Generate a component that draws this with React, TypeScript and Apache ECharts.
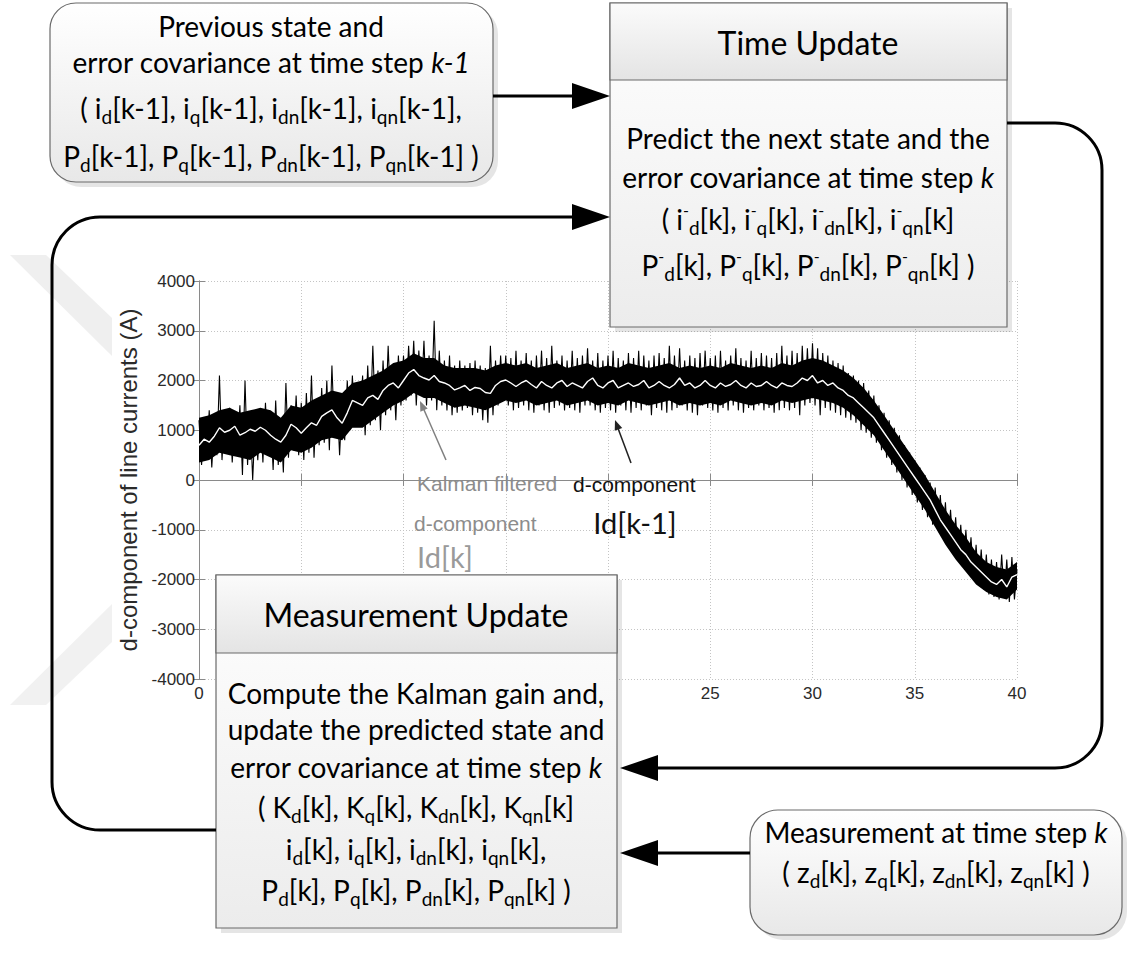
import React, { useEffect, useRef } from "react";
import * as echarts from "echarts";

// ---------- data ----------
const X_TICKS = [0, 5, 10, 15, 20, 25, 30, 35, 40];
const X_TICKS_HIDDEN = [5, 10, 15, 20]; // covered by the Measurement Update box in the picture
const Y_TICKS = [-4000, -3000, -2000, -1000, 0, 1000, 2000, 3000, 4000];
const FILT_STEP = 0.25; // s between filtered samples
const MEAS_STEP = 0.125; // s between measured samples
const CORE_STEP = 0.5; // s between samples of the dense core of the measured trace

// Kalman filtered d-component Id[k] (white trace), every 0.25 s from 0 to 40
const filtered = [
  700, 820, 760, 880, 1050, 960, 1000, 1080, 900, 950, 1020, 980, 1060, 1000, 900, 820,
  760, 900, 1120, 1050, 940, 1050, 1150, 1100, 1280, 1350, 1410, 1250, 1140, 1350, 1600, 1550,
  1500, 1650, 1700, 1620, 1800, 1900, 1950, 1850, 2000, 2150, 2220, 2100, 2050, 2010, 2100, 1980,
  1950, 1900, 1810, 1850, 1900, 1800, 1860, 1840, 1760, 1740, 1900, 1980, 2010, 1950, 1880, 1950,
  2000, 1920, 1850, 1980, 1900, 1850, 1950, 2000, 1880, 1950, 1900, 1850, 1980, 2050, 1900, 1850,
  1950, 2000, 1850, 1900, 1950, 1880, 1920, 2000, 1850, 1900, 1980, 1900, 1850, 1920, 2050, 1900,
  1950, 1850, 1900, 2000, 1900, 1850, 1950, 1880, 1920, 2000, 1900, 1850, 1950, 1880, 1900, 1980,
  1900, 1850, 1950, 1900, 1880, 1950, 2050, 2000, 2100, 1950, 2000, 1900, 1950, 1850, 1800, 1700,
  1650, 1550, 1450, 1350, 1250, 1100, 950, 800, 650, 500, 350, 200, 50, -100, -250, -400,
  -600, -800, -950, -1100, -1250, -1400, -1500, -1650, -1750, -1850, -1950, -2050, -2100, -2000, -2150, -1950,
  -1900,
];

// measured d-component Id[k-1] (black noisy trace, spikes), every 0.125 s from 0 to 40
const measured = [
  1200, 300, 1000, 450, 1400, 250, 1150, 500,
  2100, 400, 1300, 550, 1450, 350, 1250, 600,
  1500, 100, 2000, 300, 1350, 0, 1200, 400,
  1400, 350, 1550, 500, 1300, 200, 1600, 300,
  1200, 150, 1950, 450, 1500, 600, 1700, 500,
  1550, 400, 1750, 550, 2100, 450, 1600, 700,
  1850, 750, 2000, 600, 2300, 900, 1700, 500,
  1600, 800, 2000, 1000, 2100, 1100, 1950, 1200,
  2100, 900, 2300, 1100, 2700, 1200, 2200, 1000,
  2400, 1300, 2700, 1400, 2300, 1200, 2500, 1500,
  2500, 1600, 2700, 1700, 2800, 1500, 2600, 1700,
  2800, 1500, 2500, 1600, 3200, 1400, 2600, 1500,
  2400, 1400, 2500, 1300, 2300, 1350, 2400, 1400,
  2300, 1450, 2350, 1300, 2400, 1350, 2300, 1200,
  2250, 1150, 2700, 1300, 2400, 1500, 2500, 1600,
  2500, 1500, 2450, 1400, 2600, 1450, 2400, 1500,
  2550, 1400, 2400, 1350, 2500, 1500, 2600, 1400,
  2450, 1350, 2700, 1450, 2400, 1500, 2500, 1400,
  2400, 1450, 2600, 1400, 2450, 1350, 2500, 1500,
  2650, 1500, 2400, 1400, 2550, 1350, 2400, 1450,
  2500, 1400, 2600, 1350, 2450, 1500, 2400, 1400,
  2550, 1350, 2450, 1450, 2600, 1400, 2500, 1500,
  2400, 1300, 2500, 1450, 2550, 1400, 2450, 1350,
  2700, 1400, 2500, 1450, 2650, 1500, 2400, 1400,
  2500, 1350, 2450, 1300, 2550, 1500, 2600, 1450,
  2450, 1400, 2500, 1350, 2600, 1450, 2400, 1400,
  2500, 1500, 2650, 1400, 2450, 1350, 2400, 1450,
  2600, 1400, 2450, 1500, 2550, 1400, 2500, 1450,
  2450, 1350, 2550, 1400, 2700, 1450, 2500, 1400,
  2600, 1450, 2550, 1300, 2700, 1500, 2650, 1550,
  2750, 1500, 2650, 1300, 2550, 1450, 2500, 1400,
  2400, 1350, 2350, 1300, 2300, 1250, 2150, 1200,
  2100, 1150, 2000, 1000, 1950, 950, 1800, 850,
  1700, 750, 1500, 600, 1350, 450, 1200, 300,
  1050, 150, 900, 0, 700, -150, 550, -300,
  400, -450, 250, -600, 100, -750, -50, -900,
  -150, -1000, -300, -1150, -450, -1300, -600, -1400,
  -750, -1550, -900, -1700, -1000, -1800, -1150, -1950,
  -1300, -2100, -1400, -2200, -1500, -2300, -1600, -2350,
  -1650, -2400, -1500, -2350, -1600, -2450, -1550, -2400,
  -1800,
];

// lower / upper edge of the solid black core of the measured trace, every 0.5 s
const coreLow = [
  350, 400, 550, 500, 450, 400, 550, 450, 350, 600,
  550, 650, 800, 850, 800, 1050, 1050, 1200, 1350, 1500,
  1600, 1750, 1650, 1650, 1550, 1450, 1500, 1450, 1400, 1500,
  1600, 1550, 1600, 1500, 1550, 1600, 1500, 1550, 1600, 1500,
  1550, 1500, 1600, 1550, 1500, 1550, 1600, 1500, 1550, 1500,
  1550, 1500, 1600, 1550, 1500, 1550, 1500, 1600, 1550, 1600,
  1650, 1600, 1550, 1450, 1300, 1100, 900, 600, 300, 0,
  -300, -600, -950, -1300, -1600, -1850, -2100, -2250, -2350, -2400,
  -2200,
];
const coreHigh = [
  1250, 1300, 1400, 1450, 1350, 1400, 1450, 1400, 1250, 1500,
  1450, 1600, 1700, 1800, 1750, 1950, 2000, 2100, 2200, 2350,
  2400, 2550, 2450, 2450, 2300, 2250, 2250, 2250, 2200, 2300,
  2350, 2300, 2350, 2250, 2300, 2350, 2250, 2300, 2350, 2250,
  2300, 2250, 2350, 2300, 2250, 2300, 2350, 2250, 2300, 2250,
  2300, 2250, 2350, 2300, 2250, 2300, 2250, 2350, 2300, 2400,
  2450, 2400, 2300, 2200, 2050, 1850, 1600, 1300, 1000, 700,
  400, 100, -250, -600, -900, -1150, -1450, -1650, -1750, -1800,
  -1650,
];

const Y_NAME = "d-component of line currents (A)";

// ---------- diagram helpers ----------
const BF = "Lato, 'Open Sans', sans-serif";
const PF = "'Liberation Sans', Arial, sans-serif";
const BODY = 28;
const SUB = 19;

const rich = {
  n: { fontFamily: BF, fontSize: BODY, color: "#111", lineHeight: 36 },
  it: { fontFamily: BF, fontSize: BODY, color: "#111", lineHeight: 36, fontStyle: "italic" },
  s: { fontFamily: BF, fontSize: SUB, color: "#111", lineHeight: 18, verticalAlign: "bottom" },
  p: { fontFamily: BF, fontSize: 16, color: "#111", lineHeight: 22, verticalAlign: "top" },
  h: { fontFamily: BF, fontSize: 32, color: "#111", lineHeight: 40 },
};

const tok = (style: string, t: string) => `{${style}|${t}}`;
const sym = (base: string, sub: string, tail: string, minus = false) =>
  tok("n", base) + (minus ? tok("p", "-") : "") + tok("s", sub) + tok("n", tail);

const makeList = (base: string, tail: string, lead: string, end: string, minus = false) =>
  tok("n", lead) +
  sym(base, "d", tail + ", ", minus) +
  sym(base, "q", tail + ", ", minus) +
  sym(base, "dn", tail + ", ", minus) +
  sym(base, "qn", tail + end, minus);

function textEl(x: number, y: number, text: string) {
  return {
    type: "text",
    x,
    y,
    z: 120,
    style: { text, rich, align: "center", verticalAlign: "middle" },
  };
}

const grad = (a: string, b: string) =>
  new echarts.graphic.LinearGradient(0, 0, 0, 1, [
    { offset: 0, color: a },
    { offset: 1, color: b },
  ]);

function box(x: number, y: number, w: number, h: number, r: number, fillA: string, fillB: string) {
  return [
    {
      type: "rect",
      z: 110,
      shape: { x: x + 5, y: y + 5, width: w, height: h, r },
      style: { fill: "rgba(0,0,0,0.10)" },
    },
    {
      type: "rect",
      z: 111,
      shape: { x, y, width: w, height: h, r },
      style: { fill: grad(fillA, fillB), stroke: "#6a6a6a", lineWidth: 1.2 },
    },
  ];
}

echarts.graphic.registerShape(
  "leftLoop",
  echarts.graphic.extendPath(
    "M216 830 L100 830 C73.5 830 52 808.5 52 782 L52 265 C52 238.5 73.5 217 100 217 L574 217",
    {}
  )
);
echarts.graphic.registerShape(
  "rightLoop",
  echarts.graphic.extendPath(
    "M1007 123 L1055 123 C1081 123 1102 144 1102 170 L1102 721 C1102 747 1081 768 1055 768 L656 768",
    {}
  )
);

const head = (tipX: number, y: number, dir: number) => ({
  type: "polygon",
  z: 130,
  shape: {
    points: [
      [tipX - dir * 38, y - 13],
      [tipX, y],
      [tipX - dir * 38, y + 13],
    ],
  },
  style: { fill: "#000" },
});

const smallHead = (x1: number, y1: number, x2: number, y2: number, color: string) => {
  const a = Math.atan2(y2 - y1, x2 - x1);
  const L = 10;
  const W = 4;
  const bx = x2 - L * Math.cos(a);
  const by = y2 - L * Math.sin(a);
  return {
    type: "polygon",
    z: 60,
    shape: {
      points: [
        [x2, y2],
        [bx + W * Math.sin(a), by - W * Math.cos(a)],
        [bx - W * Math.sin(a), by + W * Math.cos(a)],
      ],
    },
    style: { fill: color },
  };
};

export default function App() {
  const ref = useRef<HTMLDivElement>(null);

  useEffect(() => {
    if (!ref.current) return;
    const chart = echarts.init(ref.current, null, { renderer: "svg" });

    const measuredData = measured.map((v, i) => [i * MEAS_STEP, v]);
    const filteredData = filtered.map((v, i) => [i * FILT_STEP, v]);
    const coreData = coreLow.map((v, i) => [i * CORE_STEP, v, coreHigh[i]]);

    const axisLine = { show: true, lineStyle: { color: "#8a8a8a", width: 1 } };
    const tick = { show: true, inside: true, length: 6, lineStyle: { color: "#8a8a8a" } };
    const split = { show: true, lineStyle: { color: "#c4c4c4", type: [1, 2] as any, width: 1 } };
    const lbl = { color: "#2a2a2a", fontSize: 17, fontFamily: PF };

    const graphic: any[] = [
      // faint watermark chevron
      {
        type: "polygon",
        z: 1,
        shape: { points: [[10, 255], [46, 255], [112, 318], [112, 356]] },
        style: { fill: "#efefef" },
      },
      {
        type: "polygon",
        z: 1,
        shape: { points: [[10, 705], [46, 705], [112, 642], [112, 604]] },
        style: { fill: "#f1f1f1" },
      },
      // annotation pointers
      { type: "line", z: 60, shape: { x1: 446, y1: 460, x2: 421, y2: 403 }, style: { stroke: "#808080", lineWidth: 1.5 } },
      smallHead(446, 460, 420, 401, "#808080"),
      { type: "line", z: 60, shape: { x1: 631, y1: 463, x2: 616, y2: 423 }, style: { stroke: "#222", lineWidth: 1.5 } },
      smallHead(631, 463, 615, 420, "#222"),
      {
        type: "text", z: 60, x: 417, y: 483,
        style: { text: "Kalman filtered", fill: "#8c8c8c", font: `21px ${PF}`, align: "left", verticalAlign: "middle" },
      },
      {
        type: "text", z: 60, x: 414, y: 523,
        style: { text: "d-component", fill: "#8c8c8c", font: `21px ${PF}`, align: "left", verticalAlign: "middle" },
      },
      {
        type: "text", z: 60, x: 445, y: 556,
        style: { text: "Id[k]", fill: "#9a9a9a", font: `29px ${BF}`, align: "center", verticalAlign: "middle" },
      },
      {
        type: "text", z: 60, x: 573, y: 484,
        style: { text: "d-component", fill: "#111", font: `21px ${PF}`, align: "left", verticalAlign: "middle" },
      },
      {
        type: "text", z: 60, x: 635, y: 522,
        style: { text: "Id[k-1]", fill: "#111", font: `29px ${BF}`, align: "center", verticalAlign: "middle" },
      },

      // connectors
      { type: "leftLoop", z: 125, style: { stroke: "#000", lineWidth: 3, fill: "none" } },
      { type: "rightLoop", z: 125, style: { stroke: "#000", lineWidth: 3, fill: "none" } },
      { type: "line", z: 125, shape: { x1: 493, y1: 96, x2: 574, y2: 96 }, style: { stroke: "#000", lineWidth: 3 } },
      { type: "line", z: 125, shape: { x1: 750, y1: 853, x2: 656, y2: 853 }, style: { stroke: "#000", lineWidth: 3 } },
      head(610, 96, 1),
      head(610, 217, 1),
      head(620, 768, -1),
      head(620, 853, -1),

      // previous state box
      ...box(50, 3, 443, 179, 26, "#ffffff", "#e8e8e8"),
      textEl(271, 26, tok("n", "Previous state and")),
      textEl(271, 62, tok("n", "error covariance at time step ") + tok("it", "k-1")),
      textEl(271, 108, makeList("i", "[k-1]", "( ", ",")),
      textEl(271, 156, makeList("P", "[k-1]", "", " )")),

      // time update box
      ...box(610, 3, 397, 324, 0, "#ffffff", "#ececec"),
      {
        type: "rect", z: 112,
        shape: { x: 610, y: 3, width: 397, height: 77 },
        style: { fill: grad("#fbfbfb", "#e4e4e4"), stroke: "#6a6a6a", lineWidth: 1.2 },
      },
      textEl(808, 42, tok("h", "Time Update")),
      textEl(808, 138, tok("n", "Predict the next state and the")),
      textEl(808, 177, tok("n", "error covariance at time step ") + tok("it", "k")),
      textEl(808, 219, makeList("i", "[k]", "( ", "", true)),
      textEl(808, 265, makeList("P", "[k]", "", " )", true)),

      // measurement update box
      ...box(216, 575, 401, 353, 0, "#ffffff", "#ececec"),
      {
        type: "rect", z: 112,
        shape: { x: 216, y: 575, width: 401, height: 78 },
        style: { fill: grad("#fbfbfb", "#e4e4e4"), stroke: "#6a6a6a", lineWidth: 1.2 },
      },
      textEl(416, 614, tok("h", "Measurement Update")),
      textEl(416, 693, tok("n", "Compute the Kalman gain and,")),
      textEl(416, 729, tok("n", "update the predicted state and")),
      textEl(416, 767, tok("n", "error covariance at time step ") + tok("it", "k")),
      textEl(416, 807, makeList("K", "[k]", "( ", "")),
      textEl(416, 849, makeList("i", "[k]", "", ",")),
      textEl(416, 890, makeList("P", "[k]", "", " )")),

      // measurement box
      ...box(750, 810, 372, 125, 28, "#ffffff", "#e8e8e8"),
      textEl(936, 832, tok("n", "Measurement at time step ") + tok("it", "k")),
      textEl(936, 872, makeList("z", "[k]", "( ", " )")),
    ];

    chart.setOption({
      animation: false,
      backgroundColor: "#ffffff",
      grid: { left: 199, top: 281, width: 818, height: 398, show: false },
      xAxis: [
        {
          type: "value", min: X_TICKS[0], max: X_TICKS[X_TICKS.length - 1], interval: 5,
          axisLine, axisTick: tick, splitLine: split,
          axisLabel: {
            ...lbl, margin: 6,
            formatter: (v: number) => (X_TICKS_HIDDEN.includes(v) ? "" : String(v)),
          },
        },
        {
          type: "value", position: "top", min: X_TICKS[0], max: X_TICKS[X_TICKS.length - 1], interval: 5,
          axisLine, axisTick: tick, splitLine: { show: false }, axisLabel: { show: false },
        },
      ],
      yAxis: [
        {
          type: "value", min: Y_TICKS[0], max: Y_TICKS[Y_TICKS.length - 1], interval: 1000,
          axisLine, axisTick: tick, splitLine: split,
          axisLabel: { ...lbl, margin: 4, formatter: (v: number) => String(v) },
          name: Y_NAME, nameLocation: "middle", nameGap: 57, nameRotate: 90,
          nameTextStyle: { color: "#2a2a2a", fontSize: 24, fontFamily: PF },
        },
        {
          type: "value", position: "right", min: Y_TICKS[0], max: Y_TICKS[Y_TICKS.length - 1], interval: 1000,
          axisLine, axisTick: tick, splitLine: { show: false }, axisLabel: { show: false },
        },
      ],
      series: [
        {
          // solid core of the measured trace: polygon between coreLow and coreHigh
          type: "custom",
          name: "core",
          data: coreData,
          encode: { x: 0, y: [1, 2] },
          z: 2,
          silent: true,
          renderItem: (params: any, api: any) => {
            if (params.dataIndex !== 0) return { type: "group", children: [] };
            const pts: number[][] = [];
            for (let i = 0; i < coreHigh.length; i++) pts.push(api.coord([i * CORE_STEP, coreHigh[i]]));
            for (let i = coreLow.length - 1; i >= 0; i--) pts.push(api.coord([i * CORE_STEP, coreLow[i]]));
            return { type: "polygon", shape: { points: pts }, style: { fill: "#000" } };
          },
        },
        {
          type: "line", name: "d-component", data: measuredData, showSymbol: false, symbol: "none",
          lineStyle: { color: "#000", width: 1.1 }, z: 3,
        },
        {
          type: "line", name: "Kalman filtered d-component", data: filteredData, showSymbol: false, symbol: "none",
          lineStyle: { color: "#ffffff", width: 1.4 }, z: 4,
        },
      ],
      graphic: { elements: graphic },
    });

    return () => chart.dispose();
  }, []);

  return (
    <div
      ref={ref}
      style={{ position: "fixed", left: 0, top: 0, width: 1127, height: 955, background: "#fff" }}
    />
  );
}
